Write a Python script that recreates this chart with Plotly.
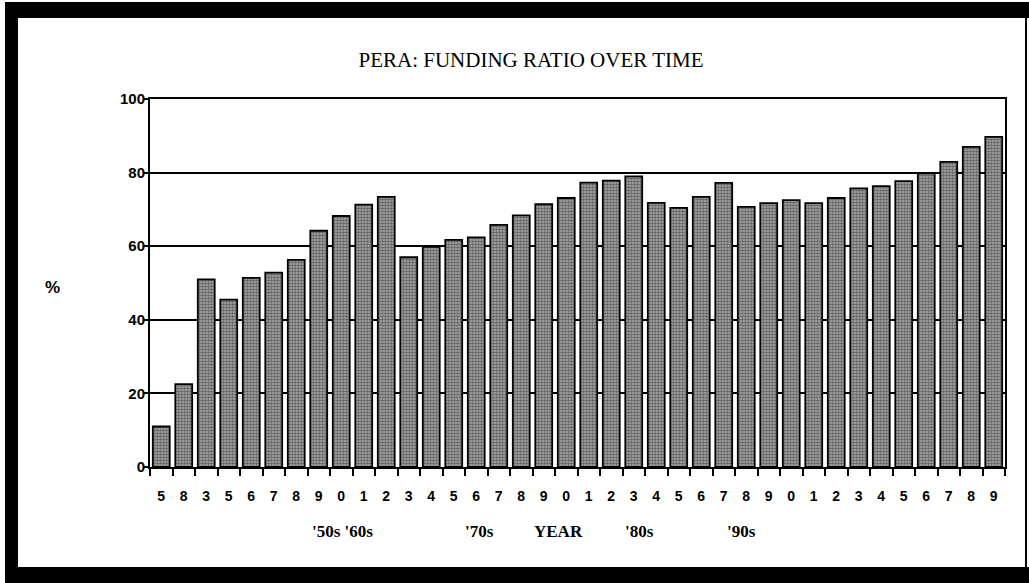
import plotly.graph_objects as go

# ---- data ----
years = ["1955", "1958", "1963", "1965", "1966", "1967", "1968", "1969",
         "1970", "1971", "1972", "1973", "1974", "1975", "1976", "1977",
         "1978", "1979", "1980", "1981", "1982", "1983", "1984", "1985",
         "1986", "1987", "1988", "1989", "1990", "1991", "1992", "1993",
         "1994", "1995", "1996", "1997", "1998", "1999"]
tick_labels = [y[-1] for y in years]
funding_ratio = [11, 22.5, 51, 45.5, 51.4, 52.8, 56.3, 64.2,
                 68.2, 71.3, 73.4, 57, 59.8, 61.7, 62.4, 65.8,
                 68.4, 71.4, 73.1, 77.3, 77.8, 79, 71.8, 70.4,
                 73.4, 77.2, 70.7, 71.7, 72.5, 71.7, 73.1, 75.7,
                 76.3, 77.7, 79.8, 82.9, 87, 89.7]
y_ticks = [0, 20, 40, 60, 80, 100]
decade_labels = ["'50s '60s", "'70s", "YEAR", "'80s", "'90s"]
decade_px = [342, 479, 558, 639, 741]

W, H = 1029, 583
L, R, T, B = 150, 24, 99, 116
pw, ph = W - L - R, H - T - B


def px_x(p):
    return (p - L) / pw


def px_y(p):
    return (H - B - p) / ph


fig = go.Figure()
fig.add_trace(go.Bar(
    x=years, y=funding_ratio,
    marker=dict(
        color="#808080",
        line=dict(color="black", width=1.8),
        pattern=dict(shape=".", fgcolor="#111111", bgcolor="#b0b0b0",
                     size=3, solidity=0.6),
    ),
    width=0.75,
    hoverinfo="x+y",
))

serif = "Liberation Serif, Times New Roman, serif"
sans = "Liberation Sans, Arial, sans-serif"

fig.update_layout(
    width=W, height=H,
    margin=dict(l=L, r=R, t=T, b=B),
    paper_bgcolor="white", plot_bgcolor="white",
    showlegend=False,
    title=dict(text="PERA: FUNDING RATIO OVER TIME",
               font=dict(family=serif, size=21, color="black"),
               x=531 / W, xanchor="center",
               y=1 - 60 / H, yanchor="middle"),
    bargap=0.25,
)

fig.update_xaxes(
    type="category",
    tickmode="array", tickvals=years, ticktext=tick_labels,
    tickson="boundaries",
    ticks="outside", ticklen=7, tickwidth=1.8, tickcolor="black",
    ticklabelstandoff=15,
    tickfont=dict(family=sans, size=14, color="black", weight="bold"),
    showline=True, linecolor="black", linewidth=2, mirror=True,
    showgrid=False,
)
fig.update_yaxes(
    range=[0, 100],
    tickmode="array", tickvals=y_ticks,
    ticks="outside", ticklen=5, tickwidth=1.8, tickcolor="black",
    ticklabelstandoff=-5,
    tickfont=dict(family=sans, size=15, color="black", weight="bold"),
    showline=True, linecolor="black", linewidth=2, mirror=True,
    showgrid=True, gridcolor="black", gridwidth=1.6,
    zeroline=False,
)

# "%" axis label
fig.add_annotation(text="%", x=px_x(52), y=px_y(287), xref="paper", yref="paper",
                   showarrow=False, xanchor="center", yanchor="middle",
                   font=dict(family=sans, size=17, color="black", weight="bold"))

# decade labels
for txt, p in zip(decade_labels, decade_px):
    fig.add_annotation(text=txt, x=px_x(p), y=px_y(531), xref="paper", yref="paper",
                       showarrow=False, xanchor="center", yanchor="middle",
                       font=dict(family=serif, size=17, color="black", weight="bold"))

# scan frame
frame = [
    (5, 2, 1029, 18),       # top band
    (5, 2, 18, 578),        # left band
    (5, 567, 1029, 583),    # bottom band
    (1025, 18, 1027, 567),  # right thin line
]
for x0, y0, x1, y1 in frame:
    fig.add_shape(type="rect", xref="paper", yref="paper",
                  x0=px_x(x0), x1=px_x(x1), y0=px_y(y1), y1=px_y(y0),
                  fillcolor="black", line=dict(width=0), layer="above")

fig.write_html("out.html",
               config={"displayModeBar": False},
               post_script="document.body.style.margin='0';document.body.style.overflow='hidden';")
